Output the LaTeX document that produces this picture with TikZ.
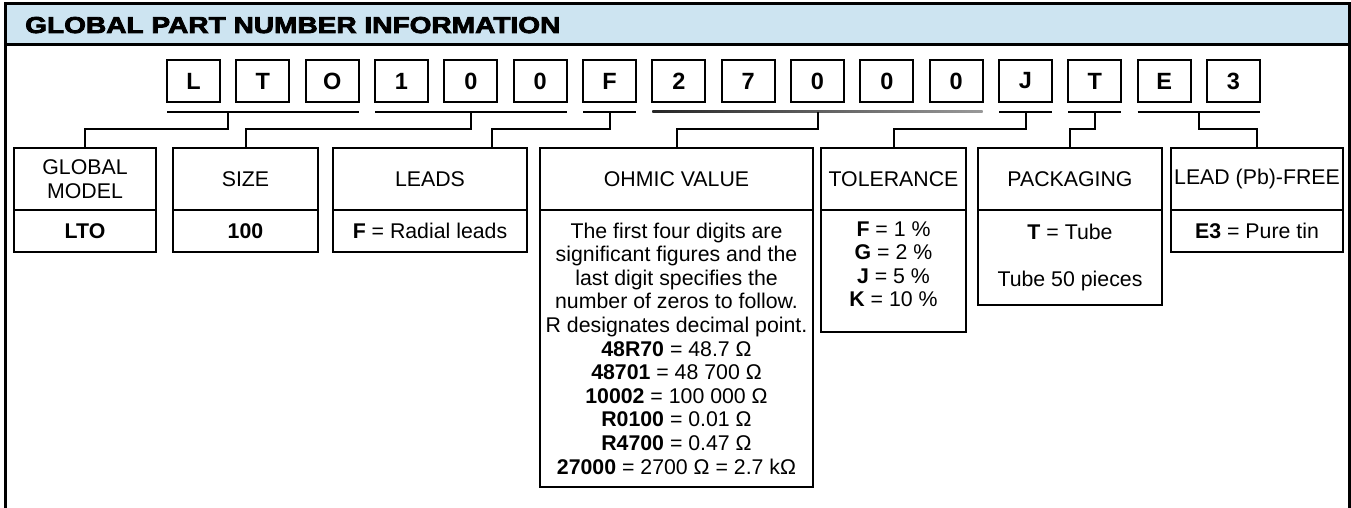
\documentclass[tikz,border=0pt]{standalone}
\usepackage{fontspec}
\setmainfont{Liberation Sans}
\newfontfamily\titlefont{Liberation Sans}[FakeBold=3.5,FakeStretch=1.22]
\usetikzlibrary{calc,positioning}
\definecolor{hdrblue}{RGB}{205,228,241}
\newcommand\bodyfont{\fontsize{21.3}{23.6}\selectfont}

\tikzset{
	digit/.style={draw, line width=2pt, minimum width=53pt, minimum height=42pt, inner sep=0pt, outer sep=0pt, font=\fontsize{23.5}{26}\selectfont\bfseries},
	headbox/.style={draw, line width=2.5pt, minimum height=62pt, inner sep=0pt, outer sep=0pt, align=center, font=\bodyfont},
	bodybox/.style={draw, line width=2.5pt, inner sep=0pt, outer sep=0pt, align=center, font=\bodyfont},
	wire/.style={line width=2pt},
	uline/.style={line width=2pt}
}

\begin{document}
\begin{tikzpicture}[x=1pt, y=-1pt]
			%%%%% START %%%%%
			\useasboundingbox (0,0) rectangle (1351,508);
			
			\draw[line width=3pt, fill=hdrblue] (5,4) rectangle (1349,45);
			\draw[line width=3pt] (5,520) -- (5,4) -- (1349,4) -- (1349,520);
			\node[anchor=base west, inner sep=0pt] (title) at (25,33) {\titlefont\bfseries\fontsize{23}{26}\selectfont GLOBAL PART NUMBER INFORMATION};
			
			\node[digit] (pL) at (193.5,81) {L};
			\node[digit] (pT) at (262.8,81) {T};
			\node[digit] (pO) at (332.2,81) {O};
			\node[digit] (p1) at (401.5,81) {1};
			\node[digit] (p0a) at (470.8,81) {0};
			\node[digit] (p0b) at (540.2,81) {0};
			\node[digit] (pF) at (609.5,81) {F};
			\node[digit] (p2) at (678.8,81) {2};
			\node[digit] (p7) at (748.2,81) {7};
			\node[digit] (p0c) at (817.5,81) {0};
			\node[digit] (p0d) at (886.8,81) {0};
			\node[digit] (p0e) at (956.2,81) {0};
			\node[digit] (pJ) at (1025.5,81) {J};
			\node[digit] (pTT) at (1094.8,81) {T};
			\node[digit] (pE) at (1164.2,81) {E};
			\node[digit] (p3) at (1233.5,81) {3};
			
			\draw[uline] ($(pL.south west)+(0,10)$) -- ($(pO.south east)+(0,10)$);
			\draw[uline] ($(p1.south west)+(0,10)$) -- ($(p0b.south east)+(0,10)$);
			\draw[uline] ($(pF.south west)+(0,10)$) -- ($(pF.south east)+(0,10)$);
			\shade[left color=black!85, right color=black!40] ($(p2.south west)+(0,9)$) rectangle ($(p0e.south east)+(0,11)$);
			\draw[uline] ($(pJ.south west)+(0,10)$) -- ($(pJ.south east)+(0,10)$);
			\draw[uline] ($(pTT.south west)+(0,10)$) -- ($(pTT.south east)+(0,10)$);
			\draw[uline] ($(pE.south west)+(0,10)$) -- ($(p3.south east)+(0,10)$);
			
			\node[headbox, minimum width=142pt] (gm) at (85,179) {GLOBAL\\MODEL};
			\node[bodybox, minimum width=142pt, minimum height=42pt, below=0pt of gm] (gmv) {\textbf{LTO}};
			
			\node[headbox, minimum width=145pt] (sz) at (245.5,179) {SIZE};
			\node[bodybox, minimum width=145pt, minimum height=42pt, below=0pt of sz] (szv) {\textbf{100}};
			
			\node[headbox, minimum width=194pt] (ld) at (430,179) {LEADS};
			\node[bodybox, minimum width=194pt, minimum height=42pt, below=0pt of ld] (ldv) {\textbf{F} = Radial leads};
			
			\node[headbox, minimum width=273pt] (ov) at (676.5,179) {OHMIC VALUE};
			\node[bodybox, minimum width=273pt, minimum height=277pt, below=0pt of ov] (ovv) {The first four digits are\\significant figures and the\\last digit specifies the\\number of zeros to follow.\\R designates decimal point.\\\textbf{48R70} = 48.7 Ω\\\textbf{48701} = 48 700 Ω\\\textbf{10002} = 100 000 Ω\\\textbf{R0100} = 0.01 Ω\\\textbf{R4700} = 0.47 Ω\\\textbf{27000} = 2700 Ω = 2.7 kΩ};
			
			\node[headbox, minimum width=145pt] (tl) at (893.5,179) {TOLERANCE};
			\node[bodybox, minimum width=145pt, minimum height=122pt, below=0pt of tl] (tlv) {\textbf{F} = 1 \%\\\textbf{G} = 2 \%\\\textbf{J} = 5 \%\\\textbf{K} = 10 \%\\[-10pt]\mbox{}};
			
			\node[headbox, minimum width=184pt] (pk) at (1070,179) {PACKAGING};
			\node[bodybox, minimum width=184pt, minimum height=95pt, below=0pt of pk] (pkv) {\textbf{T} = Tube\\[23pt]Tube 50 pieces};
			
			\node[headbox, minimum width=172pt] (lf) at (1257,179) {LEAD (Pb)-FREE};
			\node[bodybox, minimum width=172pt, minimum height=42pt, below=0pt of lf] (lfv) {\textbf{E3} = Pure tin};
			
			\draw[wire] ($(pL.south)!0.5!(pT.south)+(0,10)$) -- ++(0,17) -| (gm.north);
			\draw[wire] ($(p0a.south)+(0,10)$) -- ++(0,17) -| (sz.north);
			\draw[wire] ($(pF.south)+(0,10)$) -- ++(0,17) -| ($(ld.north)+(62,0)$);
			\draw[wire] ($(p0c.south)+(0,10)$) -- ++(0,17) -| (ov.north);
			\draw[wire] ($(pJ.south)+(0,10)$) -- ++(0,17) -| (tl.north);
			\draw[wire] ($(pTT.south)+(0,10)$) -- ++(0,17) -| (pk.north);
			\draw[wire] ($(pE.south)!0.5!(p3.south)+(0,10)$) -- ++(0,17) -| (lf.north);
			
			%%%%% END %%%%%
\end{tikzpicture}
\end{document}
